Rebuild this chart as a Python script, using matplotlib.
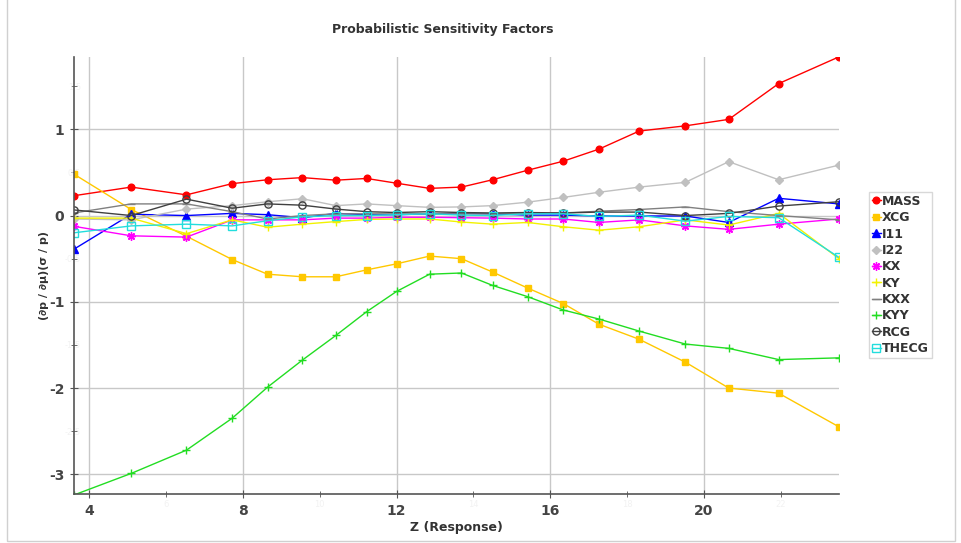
import matplotlib
matplotlib.use("Agg")
import matplotlib.pyplot as plt
from matplotlib.patches import Rectangle
from matplotlib.ticker import MultipleLocator

plt.rcParams["axes.unicode_minus"] = False

# Z (Response) positions
z = [3.60, 5.09, 6.53, 7.72, 8.64, 9.55, 10.42, 11.22, 12.00, 12.86,
     13.69, 14.50, 15.41, 16.34, 17.27, 18.32, 19.52, 20.65, 21.95, 23.52]

mass = [0.23, 0.33, 0.24, 0.37, 0.415, 0.44, 0.41, 0.43, 0.375, 0.315,
        0.33, 0.415, 0.525, 0.63, 0.77, 0.98, 1.04, 1.115, 1.53, 1.84]
xcg = [0.48, 0.07, -0.24, -0.51, -0.68, -0.71, -0.71, -0.63, -0.56, -0.47,
       -0.50, -0.655, -0.84, -1.02, -1.26, -1.435, -1.70, -2.0, -2.06, -2.45]
i11 = [-0.39, 0.015, 0.0, 0.025, 0.01, -0.025, 0.025, 0.01, 0.01, 0.02,
       0.025, 0.02, 0.005, 0.005, -0.005, -0.005, -0.005, -0.08, 0.2, 0.135]
i22 = [-0.04, -0.05, 0.075, 0.115, 0.16, 0.195, 0.115, 0.135, 0.115, 0.095,
       0.10, 0.115, 0.155, 0.21, 0.27, 0.33, 0.385, 0.625, 0.415, 0.585]
kx = [-0.125, -0.235, -0.25, -0.05, -0.05, -0.05, -0.03, -0.03, -0.02, -0.02,
      -0.025, -0.03, -0.04, -0.04, -0.08, -0.05, -0.12, -0.16, -0.10, -0.04]
ky = [-0.03, -0.03, -0.21, -0.05, -0.135, -0.1, -0.07, -0.045, -0.04, -0.04,
      -0.075, -0.1, -0.08, -0.13, -0.17, -0.13, -0.05, -0.11, 0.025, -0.5]
kxx = [0.03, 0.135, 0.135, 0.045, -0.04, 0.0, 0.02, 0.02, 0.02, 0.02,
       0.02, 0.02, 0.02, 0.03, 0.05, 0.07, 0.10, 0.045, 0.0, -0.05]
kyy = [-3.24, -2.99, -2.72, -2.35, -1.99, -1.675, -1.39, -1.115, -0.88, -0.68,
       -0.666, -0.81, -0.94, -1.095, -1.20, -1.34, -1.49, -1.54, -1.67, -1.65]
rcg = [0.065, 0.0, 0.19, 0.085, 0.135, 0.12, 0.075, 0.045, 0.035, 0.045,
       0.035, 0.03, 0.035, 0.03, 0.04, 0.04, 0.0, 0.025, 0.11, 0.16]
thecg = [-0.2, -0.12, -0.1, -0.12, -0.06, -0.015, 0.0, 0.0, 0.01, 0.02,
         0.005, 0.0, 0.02, 0.02, -0.01, 0.005, -0.065, -0.01, -0.025, -0.485]

names = ["MASS", "XCG", "I11", "I22", "KX", "KY", "KXX", "KYY", "RCG", "THECG"]
values = [mass, xcg, i11, i22, kx, ky, kxx, kyy, rcg, thecg]

# (color, marker, size, filled)
styles = [
    ("#ff0000", "o", 4.8, True),
    ("#ffc800", "s", 4.8, True),
    ("#0000ff", "^", 5.2, True),
    ("#c0c0c0", "D", 3.8, True),
    ("#ff00ff", (8, 2, 0), 6, True),
    ("#f2f200", "+", 6, True),
    ("#808080", "_", 6, True),
    ("#22dd22", "+", 6, True),
    ("#404040", "o", 5.2, False),
    ("#22dddd", "s", 5.2, False),
]

fig = plt.figure(figsize=(9.62, 5.43), dpi=100)
ax = fig.add_axes([0.0769, 0.0897, 0.7956, 0.8048])

for name, ys, (c, m, ms, filled) in zip(names, values, styles):
    ax.plot(z, ys, color=c, lw=1.0, marker=m, markersize=ms,
            markerfacecolor=c if filled else "none", markeredgecolor=c,
            markeredgewidth=1.0, label=name)

ax.set_xlim(3.60, 23.53)
ax.set_ylim(-3.232, 1.835)
ax.xaxis.set_major_locator(MultipleLocator(4))
ax.xaxis.set_minor_locator(MultipleLocator(2))
ax.yaxis.set_major_locator(MultipleLocator(1))
ax.yaxis.set_minor_locator(MultipleLocator(0.5))

ax.grid(True, which="major", color="#c8c8c8", lw=1.0)
ax.set_axisbelow(True)
for s in ["top", "right"]:
    ax.spines[s].set_visible(False)
for s in ["left", "bottom"]:
    ax.spines[s].set_color("#555555")
    ax.spines[s].set_linewidth(1.2)

ax.tick_params(which="major", direction="inout", length=6, color="#555555",
               labelsize=10, labelcolor="#444444", pad=4)
ax.tick_params(which="minor", direction="inout", length=4, color="#555555")
for lab in ax.get_xticklabels() + ax.get_yticklabels():
    lab.set_fontweight("bold")

# very faint minor labels sitting on the axes, as in the reference
ax.xaxis.set_minor_formatter(lambda v, p: "" if v % 4 == 0 else f"{v:g}")
ax.yaxis.set_minor_formatter(lambda v, p: "" if v % 1 == 0 else f"{v:g}")
ax.tick_params(axis="x", which="minor", labelsize=6, labelcolor="#f2f2f2", pad=2)
ax.tick_params(axis="y", which="minor", labelsize=6, labelcolor="#f2f2f2", pad=-7)

ax.set_xlabel("Z (Response)", fontsize=9, fontweight="bold", color="#333333")
ax.xaxis.set_label_coords(0.5, -0.062)
ax.set_ylabel("(∂p / ∂μ)(σ / p)", fontsize=8, fontweight="bold", color="#333333")
ax.yaxis.set_label_coords(-0.033, 0.5)
fig.text(0.46, 0.945, "Probabilistic Sensitivity Factors", ha="center",
         va="center", fontsize=9, fontweight="bold", color="#333333")

leg = fig.legend(loc="upper left", bbox_to_anchor=(0.903, 0.647),
                 prop={"weight": "bold", "size": 9}, handlelength=0.7,
                 handletextpad=0.1, labelspacing=0.27, borderpad=0.25,
                 borderaxespad=0, fancybox=False, framealpha=1,
                 edgecolor="#d8d8d8")
for t in leg.get_texts():
    t.set_color("#333333")

fig.patches.append(Rectangle((7 / 962, 2 / 543), 948 / 962, 1.0, fill=False,
                             edgecolor="#d0d0d0", lw=1.0,
                             transform=fig.transFigure, figure=fig))

fig.savefig("out.png", dpi=100)
